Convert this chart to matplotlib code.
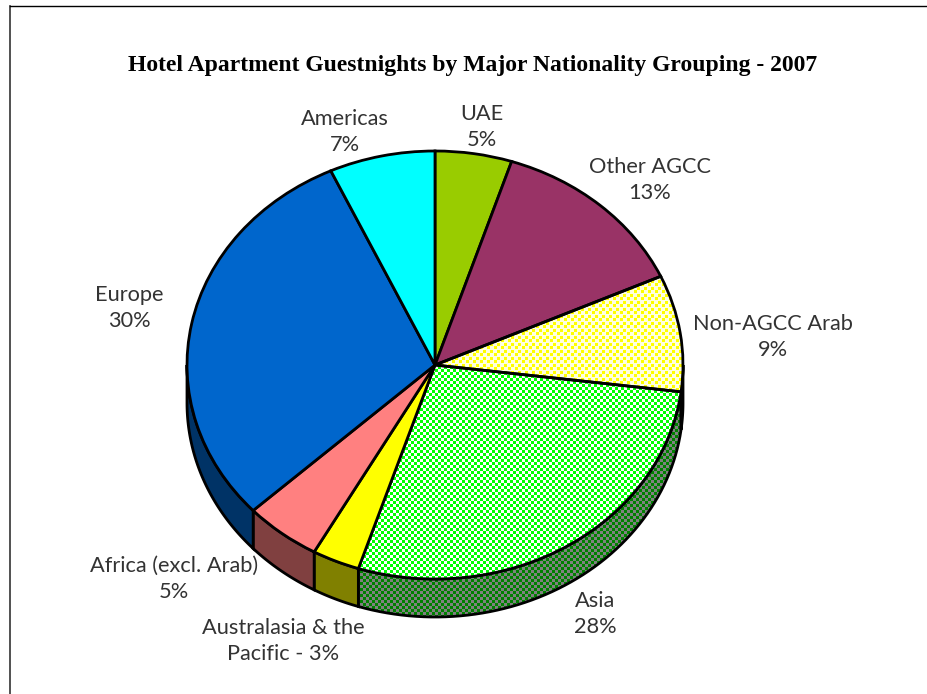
import numpy as np
import matplotlib
matplotlib.use("Agg")
import matplotlib.pyplot as plt
from matplotlib.lines import Line2D
from matplotlib.patches import Polygon

labels = ["UAE\n5%", "Other AGCC\n13%", "Non-AGCC Arab\n9%", "Asia\n28%",
          "Australasia & the\nPacific - 3%", "Africa (excl. Arab)\n5%", "Europe\n30%", "Americas\n7%"]
values = [5.0, 13.2, 8.8, 28.0, 3.1, 5.0, 30.0, 6.9]
top_colors = ["#99CC00", "#993366", "#FFFF00", "#00FF00", "#FFFF00", "#FF8080", "#0066CC", "#00FFFF"]
side_colors = ["#4C6600", "#4C1933", "#808000", "#008000", "#808000", "#804040", "#003366", "#008080"]
label_xy = [(482, 127), (650, 180), (773, 337), (595, 614), (283, 641), (174, 579), (129, 308), (345, 132)]

W, H = 928, 694
cx, cy, rx, ry, depth = 435, 365, 248, 214, 38

fig = plt.figure(figsize=(W / 100, H / 100), dpi=100)
ax = fig.add_axes([0, 0, 1, 1])
wedges, _ = ax.pie(values, colors=top_colors, startangle=90, counterclock=False,
                   wedgeprops=dict(edgecolor="black", linewidth=2, zorder=5))
ax.set_aspect("auto")
# one data unit is the pie radius, different in x and y to get the tilt
ax.set_xlim(-cx / rx, (W - cx) / rx)
ax.set_ylim(-(H - cy) / ry, cy / ry)

# checker textures, one pixel per array cell
yy, xx = np.indices((H, W))
check = (xx // 3 + yy // 3) % 2 == 0
dots = ((xx % 7 < 3) & (yy % 7 < 3)) | (((xx + 3) % 7 < 3) & ((yy + 4) % 7 < 3))


def texture(mask, on, off):
    img = np.empty((H, W, 3))
    img[:] = matplotlib.colors.to_rgb(off)
    img[mask] = matplotlib.colors.to_rgb(on)
    return img


def show_clipped(img, patch, z):
    im = ax.imshow(img, extent=(*ax.get_xlim(), *ax.get_ylim()), aspect="auto",
                   interpolation="nearest", zorder=z)
    im.set_clip_path(patch)


# side wall of the cake, only the front half shows
d = depth / ry
edges = 90 - np.cumsum([0] + values) * 3.6
for i in range(len(values)):
    a0, a1 = edges[i], edges[i + 1]
    # front half runs from 0 down to -180 degrees
    t0, t1 = min(a0, 0), max(a1, -180)
    if t0 <= t1:
        continue
    t = np.radians(np.linspace(t0, t1, 60))
    x, y = np.cos(t), np.sin(t)
    pts = np.r_[np.c_[x, y], np.c_[x[::-1], y[::-1] - d]]
    poly = Polygon(pts, closed=True, facecolor=side_colors[i], edgecolor="black", linewidth=2, zorder=3)
    ax.add_patch(poly)
    if labels[i].startswith("Asia"):
        poly.set_facecolor("none")
        show_clipped(texture(check, "#008000", "#808080"), poly, 2)
    if labels[i].startswith("Non-AGCC"):
        poly.set_facecolor("none")
        show_clipped(texture(dots, "#808000", "#808080"), poly, 2)

# patterned top slices
wedges[3].set_facecolor("none")
show_clipped(texture(check, "#00FF00", "#FFFFFF"), wedges[3], 4)
wedges[2].set_facecolor("none")
show_clipped(texture(dots, "#FFFF00", "#FFFFE0"), wedges[2], 4)

ax.set_xlim(-cx / rx, (W - cx) / rx)
ax.set_ylim(-(H - cy) / ry, cy / ry)

fig.text(473 / W, 1 - 66 / H, "Hotel Apartment Guestnights by Major Nationality Grouping - 2007",
         family="Liberation Serif", weight="bold", fontsize=17, ha="center", va="center", color="black")
for lab, (lx, ly) in zip(labels, label_xy):
    fig.text(lx / W, 1 - ly / H, lab, family="Lato", fontsize=15.7, ha="center", va="center",
             color="#333333", linespacing=1.43)

# frame of the pasted picture, cut off on the right and at the bottom
fig.add_artist(Line2D([10 / W, 10 / W], [0, 1 - 6 / H], color="#333333", lw=1.2))
fig.add_artist(Line2D([10 / W, 1], [1 - 6 / H, 1 - 6 / H], color="black", lw=1.0))

fig.savefig("out.png", dpi=100)
